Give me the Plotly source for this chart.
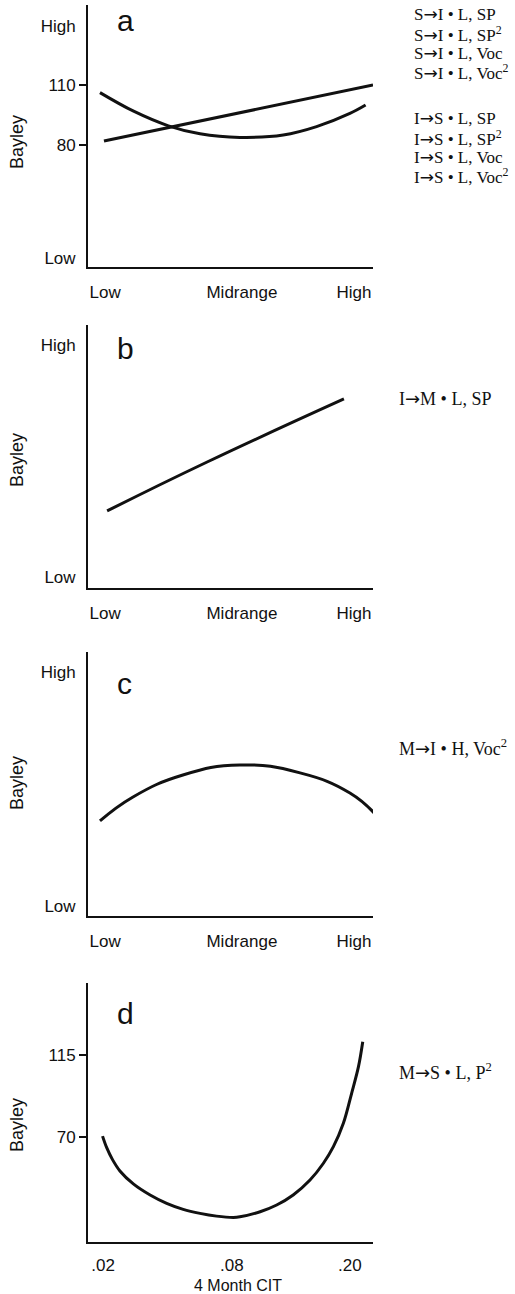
import plotly.graph_objects as go

W, H = 515, 1294

# ---------------- data ----------------
# x positions on a 0-100 scale spanning each panel's x axis
x_tick_text = ["Low", "Midrange", "High"]
x_tick_vals = [6.0, 54.0, 93.3]
d_tick_text = [".02", ".08", ".20"]
d_tick_vals = [5.3, 50.5, 91.9]

ARROW = '<span style="font-family:DejaVu Sans">→</span>'

# panel a
a_line_x = [5.6, 100.0]
a_line_y = [82.0, 110.0]
a_curve_x = [4.2, 16.0, 28.2, 39.3, 53.3, 68.5, 80.2, 91.9, 97.4]
a_curve_y = [106.2, 96.9, 89.6, 85.6, 83.8, 85.0, 89.2, 95.8, 100.0]
a_ytick_text = ["High", "110", "80", "Low"]
a_ytick_vals = [139.5, 110, 80, 23.5]
a_labels = ["S" + ARROW + "I • L, SP", "S" + ARROW + "I • L, SP<sup>2</sup>",
            "S" + ARROW + "I • L, Voc", "S" + ARROW + "I • L, Voc<sup>2</sup>",
            "I" + ARROW + "S • L, SP", "I" + ARROW + "S • L, SP<sup>2</sup>",
            "I" + ARROW + "S • L, Voc", "I" + ARROW + "S • L, Voc<sup>2</sup>"]

# panel b
b_x = [6.7, 41.8, 89.8]
b_y = [29.3, 47.9, 71.9]
b_ytick_text = ["High", "Low"]
b_ytick_vals = [92.4, 4.2]
b_labels = ["I" + ARROW + "M • L, SP"]

# panel c
c_x = [4.2, 15.8, 33.3, 53.3, 74.4, 91.9, 101.0]
c_y = [36.0, 45.1, 53.4, 57.2, 54.2, 46.6, 38.3]
c_ytick_text = ["High", "Low"]
c_ytick_vals = [92.4, 3.8]
c_labels = ["M" + ARROW + "I • H, Voc<sup>2</sup>"]

# panel d
d_x = [5.1, 6.6, 8.6, 11.2, 15.9, 21.8, 27.6, 33.4, 39.3, 45.1, 51.0, 53.3, 60.4, 66.2,
       72.0, 77.9, 82.6, 86.1, 89.6, 92.5, 94.9, 96.4]
d_y = [70.5, 64.0, 57.6, 51.4, 44.3, 38.2, 33.6, 30.3, 28.1, 26.6, 25.9, 26.2, 29.0, 32.7,
       38.2, 46.4, 55.6, 64.7, 77.5, 94.0, 108.6, 122.3]
d_ytick_text = ["115", "70"]
d_ytick_vals = [115, 70]
d_labels = ["M" + ARROW + "S • L, P<sup>2</sup>"]

panel_letters = ["a", "b", "c", "d"]

# ---------------- layout (pixel geometry) ----------------
X0, X1 = 88, 373
panels = [  # top px, bottom px, y range
    dict(top=5, bot=267, yr=[19, 150]),
    dict(top=325, bot=588, yr=[0, 100]),
    dict(top=652, bot=916, yr=[0, 100]),
    dict(top=983, bot=1242, yr=[12.4, 154.5]),
]

def py(p):
    return 1 - p / H

def px(p):
    return p / W

sans = "Liberation Sans, Arial, sans-serif"
serif = "Liberation Serif, Times New Roman, serif"
black = "#111111"

fig = go.Figure()

series = [
    [(a_line_x, a_line_y, 1.0), (a_curve_x, a_curve_y, 1.0)],
    [(b_x, b_y, 1.3)],
    [(c_x, c_y, 1.3)],
    [(d_x, d_y, 1.0)],
]
for i, ser in enumerate(series):
    suffix = "" if i == 0 else str(i + 1)
    for xs, ys, sm in ser:
        fig.add_trace(go.Scatter(x=xs, y=ys, mode="lines",
                                 line=dict(color=black, width=3, shape="spline", smoothing=sm),
                                 xaxis="x" + suffix, yaxis="y" + suffix,
                                 showlegend=False, hoverinfo="skip", cliponaxis=False))

ytick_sets = [(a_ytick_vals, a_ytick_text, [110, 80]),
              (b_ytick_vals, b_ytick_text, []),
              (c_ytick_vals, c_ytick_text, []),
              (d_ytick_vals, d_ytick_text, [115, 70])]

layout = dict(width=W, height=H, margin=dict(l=0, r=0, t=0, b=0),
              paper_bgcolor="white", plot_bgcolor="white", showlegend=False)

for i, p in enumerate(panels):
    suffix = "" if i == 0 else str(i + 1)
    tv, tt = (d_tick_vals, d_tick_text) if i == 3 else (x_tick_vals, x_tick_text)
    layout["xaxis" + suffix] = dict(
        domain=[px(X0), px(X1)], range=[0, 100], anchor="y" + suffix,
        showline=True, linewidth=2, linecolor=black, showgrid=False, zeroline=False,
        tickvals=tv, ticktext=tt, ticks="outside", ticklen=7 if i == 3 else 9,
        tickcolor="rgba(0,0,0,0)",
        tickfont=dict(family=sans, size=17, color=black), fixedrange=True)
    yv, yt, minor = ytick_sets[i]
    layout["yaxis" + suffix] = dict(
        domain=[py(p["bot"]), py(p["top"])], range=p["yr"], anchor="x" + suffix,
        showline=True, linewidth=2, linecolor=black, showgrid=False, zeroline=False,
        tickvals=yv, ticktext=yt, ticks="outside", ticklen=7, tickcolor="rgba(0,0,0,0)",
        minor=dict(tickvals=minor, ticks="outside", ticklen=7, tickcolor=black, tickwidth=2,
                   showgrid=False),
        tickfont=dict(family=sans, size=17, color=black), fixedrange=True)

fig.update_layout(**layout)

ann = []
# Bayley titles
for p, yc in zip(panels, [142, 460, 783, 1125]):
    ann.append(dict(text="Bayley", x=px(17), y=py(yc), xref="paper", yref="paper",
                    textangle=-90, showarrow=False, font=dict(family=sans, size=18, color=black),
                    xanchor="center", yanchor="middle"))
# panel letters
for letter, (lx, ly) in zip(panel_letters, [(125, 20), (125, 348), (124, 683), (125, 1013)]):
    ann.append(dict(text=letter, x=px(lx), y=py(ly), xref="paper", yref="paper",
                    showarrow=False, font=dict(family=sans, size=30, color=black),
                    xanchor="center", yanchor="middle"))
# right-hand labels
a_ys = [14, 34, 53, 72, 118, 138, 157, 176]
for t, yy in zip(a_labels, a_ys):
    ann.append(dict(text=t, x=px(412), y=py(yy), xref="paper", yref="paper", showarrow=False,
                    font=dict(family=serif, size=17, color=black), xanchor="left", yanchor="middle"))
for labs, yy in [(b_labels, 398), (c_labels, 747), (d_labels, 1071)]:
    ann.append(dict(text=labs[0], x=px(397), y=py(yy), xref="paper", yref="paper", showarrow=False,
                    font=dict(family=serif, size=18, color=black), xanchor="left", yanchor="middle"))
# x axis title of panel d
ann.append(dict(text="4 Month CIT", x=px(238), y=py(1285), xref="paper", yref="paper",
                showarrow=False, font=dict(family=sans, size=16, color=black),
                xanchor="center", yanchor="middle"))
fig.update_layout(annotations=ann)

fig.write_html("out.html")
